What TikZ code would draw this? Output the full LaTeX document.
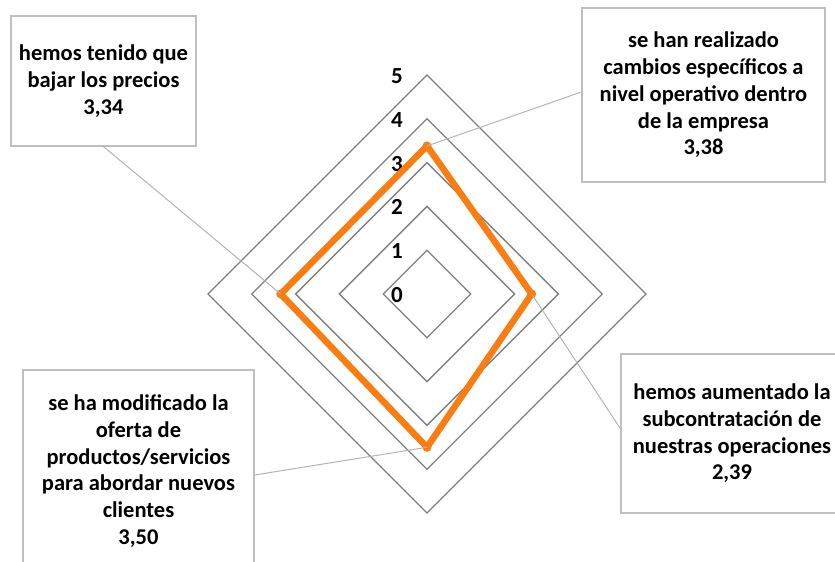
\documentclass[tikz,border=0pt]{standalone}
\usepackage{fontspec}
\setmainfont{Carlito}
\usetikzlibrary{calc}
\definecolor{ringgray}{RGB}{128,128,128}
\definecolor{boxgray}{RGB}{191,191,191}
\definecolor{linkgray}{RGB}{180,180,180}
\definecolor{serieorange}{RGB}{250,125,20}
\tikzset{
  ring/.style={draw=ringgray, line width=1.3pt},
  callout/.style={draw=boxgray, line width=1.3pt, fill=white, align=center, inner sep=0pt,
    font=\fontsize{22.5}{26.7}\selectfont\bfseries},
  axislabel/.style={font=\fontsize{23}{26}\selectfont\bfseries, inner sep=0pt},
  link/.style={draw=linkgray, line width=1pt},
  serie/.style={draw=serieorange, line width=6.5pt, line join=round},
  marker/.style={fill=serieorange, draw=none}
}
\begin{document}
\begin{tikzpicture}[x=1pt,y=-1pt]
\useasboundingbox (0,0) rectangle (835,562);
\clip (0,0) rectangle (835,562);
\fill[white] (0,0) rectangle (835,562);
\def\cx{427}\def\cy{294}\def\u{43.8}
\coordinate (c) at (\cx,\cy);
% rings
\foreach \k in {1,...,5}{
  \draw[ring] ({\cx},{\cy-\k*\u}) -- ({\cx+\k*\u},{\cy}) -- ({\cx},{\cy+\k*\u}) -- ({\cx-\k*\u},{\cy}) -- cycle;
}
% axis labels
\foreach \k in {0,...,5}{
  \node[axislabel] (lab\k) at (397,{\cy-\k*\u+1}) {\k};
}
% data points
\coordinate (T) at ({\cx},{\cy-3.38*\u});
\coordinate (R) at ({\cx+2.39*\u},{\cy});
\coordinate (B) at ({\cx},{\cy+3.50*\u});
\coordinate (L) at ({\cx-3.34*\u},{\cy});
\draw[serie] (T) -- (R) -- (B) -- (L) -- cycle;
\foreach \p in {T,R,B,L}{ \fill[marker] (\p) circle (4.5pt); }
% callouts
\node[callout, minimum width=185pt, minimum height=130pt] (b1) at (103.5,81)
  {hemos tenido que\\bajar los precios\\3,34};
\node[callout, minimum width=243pt, minimum height=174pt] (b2) at (703.5,95)
  {se han realizado\\cambios específicos a\\nivel operativo dentro\\de la empresa\\3,38};
\node[callout, minimum width=231pt, minimum height=202pt] (b3) at (138.5,471)
  {se ha modificado la\\oferta de\\productos/servicios\\para abordar nuevos\\clientes\\3,50};
\node[callout, minimum width=222pt, minimum height=159pt] (b4) at (732,433.5)
  {hemos aumentado la\\subcontratación de\\nuestras operaciones\\2,39};
% connectors
\draw[link] (b1.south) -- (L);
\draw[link] ($(b2.west)+(0,-3)$) -- (T);
\draw[link] ($(b3.east)+(0,4)$) -- (B);
\draw[link] ($(b4.west)+(0,-5)$) -- (R);
\end{tikzpicture}
\end{document}
